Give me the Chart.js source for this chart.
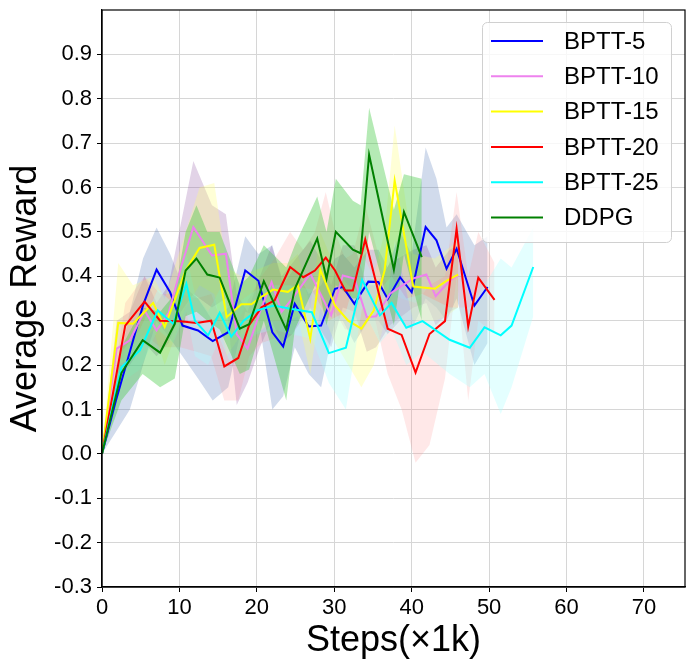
<!DOCTYPE html>
<html>
<head>
<meta charset="utf-8">
<script src="https://cdn.jsdelivr.net/npm/chart.js@4.4.0/dist/chart.umd.min.js"></script>
<style>
  html, body { margin: 0; padding: 0; background: #fff; }
  #wrap { width: 693px; height: 669px; }
</style>
</head>
<body>
<div id="wrap"><canvas id="rewardChart" width="693" height="669"></canvas></div>
<script>
// ticks
var xTicks = [0, 10, 20, 30, 40, 50, 60, 70];
var yTicks = [-0.3, -0.2, -0.1, 0.0, 0.1, 0.2, 0.3, 0.4, 0.5, 0.6, 0.7, 0.8, 0.9];

// BPTT-5
var bptt5X     = [0, 1.8, 3.6, 5.3, 7.05, 8.8, 10.4, 12.4, 14.3, 16.3, 18.5, 20.2, 22.0, 23.4, 24.9, 26.7, 28.3, 30.1, 31.1, 32.6, 34.4, 35.7, 36.9, 38.5, 40.0, 41.8, 43.2, 44.5, 45.8, 48.1, 49.8];
var bptt5Mean  = [0, 0.12, 0.23, 0.335, 0.415, 0.364, 0.289, 0.278, 0.254, 0.274, 0.413, 0.39, 0.274, 0.242, 0.338, 0.287, 0.289, 0.372, 0.376, 0.338, 0.388, 0.387, 0.349, 0.398, 0.364, 0.511, 0.481, 0.417, 0.462, 0.334, 0.376];
var bptt5Upper = [0, 0.17, 0.32, 0.44, 0.51, 0.45, 0.38, 0.35, 0.30, 0.33, 0.49, 0.45, 0.47, 0.38, 0.42, 0.36, 0.38, 0.44, 0.45, 0.42, 0.46, 0.46, 0.42, 0.50, 0.45, 0.69, 0.62, 0.51, 0.54, 0.47, 0.49];
var bptt5Lower = [0, 0.05, 0.10, 0.20, 0.30, 0.26, 0.22, 0.17, 0.12, 0.15, 0.32, 0.31, 0.10, 0.13, 0.24, 0.18, 0.15, 0.30, 0.30, 0.25, 0.30, 0.30, 0.27, 0.30, 0.28, 0.35, 0.33, 0.30, 0.35, 0.20, 0.25];

// BPTT-10
var bptt10X     = [0, 1.9, 3.6, 5.5, 7.05, 8.6, 10.2, 11.8, 14.2, 16.0, 17.4, 18.8, 20.4, 21.9, 23.2, 24.6, 26.9, 28.2, 29.6, 31.1, 32.6, 34.2, 35.4, 37.2, 40.2, 41.9, 43.1, 44.9, 46.0];
var bptt10Mean  = [0, 0.237, 0.256, 0.323, 0.278, 0.317, 0.42, 0.511, 0.447, 0.451, 0.27, 0.237, 0.32, 0.387, 0.32, 0.35, 0.406, 0.361, 0.312, 0.402, 0.395, 0.308, 0.31, 0.361, 0.395, 0.404, 0.355, 0.39, 0.402];
var bptt10Upper = [0, 0.30, 0.32, 0.40, 0.34, 0.38, 0.52, 0.66, 0.56, 0.54, 0.36, 0.32, 0.40, 0.47, 0.40, 0.43, 0.48, 0.44, 0.38, 0.47, 0.47, 0.38, 0.38, 0.43, 0.46, 0.47, 0.42, 0.46, 0.47];
var bptt10Lower = [0, 0.18, 0.20, 0.25, 0.22, 0.25, 0.32, 0.36, 0.33, 0.35, 0.11, 0.16, 0.24, 0.30, 0.25, 0.27, 0.33, 0.28, 0.24, 0.33, 0.32, 0.23, 0.24, 0.29, 0.33, 0.34, 0.29, 0.32, 0.33];

// BPTT-15
var bptt15X     = [0, 2.1, 4.0, 6.6, 8.1, 10.8, 12.6, 14.5, 16.1, 18.0, 19.3, 20.7, 22.1, 24.0, 25.3, 26.9, 28.2, 30.1, 31.8, 33.5, 35.1, 36.5, 37.8, 40.2, 43.0, 44.5, 46.0];
var bptt15Mean  = [0, 0.295, 0.293, 0.34, 0.286, 0.413, 0.464, 0.471, 0.308, 0.337, 0.337, 0.355, 0.37, 0.365, 0.38, 0.259, 0.415, 0.334, 0.30, 0.282, 0.323, 0.413, 0.616, 0.377, 0.372, 0.39, 0.404];
var bptt15Upper = [0, 0.43, 0.38, 0.40, 0.35, 0.50, 0.60, 0.61, 0.42, 0.40, 0.41, 0.42, 0.43, 0.43, 0.45, 0.33, 0.50, 0.42, 0.38, 0.36, 0.40, 0.50, 0.74, 0.45, 0.44, 0.46, 0.48];
var bptt15Lower = [0, 0.20, 0.22, 0.28, 0.20, 0.33, 0.38, 0.36, 0.22, 0.27, 0.27, 0.28, 0.30, 0.30, 0.31, 0.18, 0.33, 0.25, 0.20, 0.15, 0.20, 0.30, 0.48, 0.30, 0.30, 0.31, 0.33];

// BPTT-20
var bptt20X     = [0, 3.0, 5.5, 7.5, 10.1, 12.2, 14.1, 15.8, 17.6, 19.0, 20.6, 22.3, 24.3, 26.0, 27.5, 28.9, 30.1, 31.4, 32.4, 34.0, 36.9, 38.7, 40.5, 42.3, 44.3, 45.8, 47.3, 48.6, 50.7];
var bptt20Mean  = [0, 0.289, 0.343, 0.30, 0.299, 0.295, 0.30, 0.197, 0.216, 0.29, 0.33, 0.346, 0.421, 0.398, 0.413, 0.442, 0.413, 0.368, 0.368, 0.483, 0.282, 0.268, 0.183, 0.27, 0.299, 0.507, 0.287, 0.397, 0.347];
var bptt20Upper = [0, 0.34, 0.40, 0.36, 0.36, 0.35, 0.36, 0.28, 0.30, 0.35, 0.40, 0.44, 0.50, 0.46, 0.50, 0.59, 0.50, 0.44, 0.45, 0.56, 0.37, 0.35, 0.34, 0.38, 0.40, 0.59, 0.40, 0.50, 0.43];
var bptt20Lower = [0, 0.23, 0.27, 0.24, 0.24, 0.23, 0.22, 0.12, 0.12, 0.22, 0.25, 0.26, 0.33, 0.32, 0.33, 0.30, 0.32, 0.28, 0.28, 0.40, 0.18, 0.10, -0.02, 0.02, 0.17, 0.40, 0.12, 0.30, 0.27];

// BPTT-25
var bptt25X     = [0, 2.5, 4.9, 7.2, 9.2, 10.9, 12.0, 13.7, 15.2, 16.7, 18.3, 20.0, 22.2, 24.3, 27.1, 29.3, 31.5, 33.6, 35.9, 37.4, 39.3, 41.4, 44.9, 47.5, 49.4, 51.5, 52.9, 55.7];
var bptt25Mean  = [0, 0.195, 0.233, 0.323, 0.293, 0.383, 0.30, 0.267, 0.318, 0.264, 0.30, 0.323, 0.334, 0.327, 0.319, 0.227, 0.239, 0.392, 0.312, 0.34, 0.284, 0.299, 0.257, 0.239, 0.285, 0.267, 0.289, 0.421];
var bptt25Upper = [0, 0.23, 0.28, 0.37, 0.34, 0.45, 0.36, 0.32, 0.37, 0.32, 0.35, 0.37, 0.38, 0.38, 0.37, 0.30, 0.32, 0.45, 0.37, 0.40, 0.35, 0.36, 0.33, 0.33, 0.38, 0.44, 0.42, 0.51];
var bptt25Lower = [0, 0.16, 0.19, 0.28, 0.25, 0.32, 0.22, 0.20, 0.26, 0.20, 0.25, 0.27, 0.28, 0.27, 0.26, 0.16, 0.10, 0.33, 0.25, 0.28, 0.20, 0.23, 0.18, 0.15, 0.18, 0.09, 0.15, 0.31];

// DDPG
var ddpgX     = [0, 2.5, 5.25, 7.5, 9.4, 10.8, 12.2, 13.6, 15.2, 17.8, 19.0, 20.9, 23.8, 24.9, 27.8, 29.0, 30.2, 32.4, 33.4, 34.5, 37.7, 39.0, 41.3];
var ddpgMean  = [0, 0.182, 0.256, 0.228, 0.293, 0.413, 0.44, 0.404, 0.397, 0.282, 0.292, 0.389, 0.28, 0.372, 0.485, 0.395, 0.5, 0.46, 0.452, 0.674, 0.415, 0.545, 0.443];
var ddpgUpper = [0, 0.24, 0.33, 0.32, 0.36, 0.50, 0.56, 0.50, 0.50, 0.38, 0.40, 0.47, 0.42, 0.47, 0.58, 0.50, 0.62, 0.57, 0.56, 0.78, 0.55, 0.63, 0.62];
var ddpgLower = [0, 0.12, 0.18, 0.15, 0.17, 0.31, 0.32, 0.30, 0.28, 0.18, 0.19, 0.30, 0.12, 0.28, 0.39, 0.29, 0.38, 0.35, 0.35, 0.50, 0.29, 0.45, 0.30];

var series = [
  { label: 'BPTT-5',  color: '#0000ff', band: 'rgba(70,110,180,0.25)',  x: bptt5X,  m: bptt5Mean,  up: bptt5Upper,  lo: bptt5Lower },
  { label: 'BPTT-10', color: '#ee82ee', band: 'rgba(140,80,160,0.25)',  x: bptt10X, m: bptt10Mean, up: bptt10Upper, lo: bptt10Lower },
  { label: 'BPTT-15', color: '#ffff00', band: 'rgba(255,255,120,0.3)',  x: bptt15X, m: bptt15Mean, up: bptt15Upper, lo: bptt15Lower },
  { label: 'BPTT-20', color: '#ff0000', band: 'rgba(255,140,140,0.2)',  x: bptt20X, m: bptt20Mean, up: bptt20Upper, lo: bptt20Lower },
  { label: 'BPTT-25', color: '#00ffff', band: 'rgba(170,255,255,0.32)', x: bptt25X, m: bptt25Mean, up: bptt25Upper, lo: bptt25Lower },
  { label: 'DDPG',    color: '#008000', band: 'rgba(60,200,60,0.38)',   x: ddpgX,   m: ddpgMean,   up: ddpgUpper,   lo: ddpgLower }
];

var FONT = '"Liberation Sans", Arial, sans-serif';

function pts(xs, ys) {
  return xs.map(function (x, i) { return { x: x, y: ys[i] }; });
}

// first dataset is drawn on top, so lines go in reverse (DDPG on top)
var datasets = [];
series.slice().reverse().forEach(function (s) {
  datasets.push({
    label: s.label, data: pts(s.x, s.m), borderColor: s.color, borderWidth: 2,
    pointRadius: 0, fill: false, tension: 0, order: 0
  });
});
series.slice().reverse().forEach(function (s) {
  datasets.push({ label: s.label + ' up', data: pts(s.x, s.up), borderWidth: 0, borderColor: 'rgba(0,0,0,0)', pointRadius: 0, fill: false, order: 1 });
  datasets.push({ label: s.label + ' lo', data: pts(s.x, s.lo), borderWidth: 0, borderColor: 'rgba(0,0,0,0)', pointRadius: 0, fill: '-1', backgroundColor: s.band, order: 1 });
});

var frameAndLegend = {
  id: 'frameAndLegend',
  afterDraw: function (chart) {
    var ctx = chart.ctx, a = chart.chartArea;
    ctx.save();
    ctx.strokeStyle = '#000';
    ctx.lineWidth = 1.2;
    ctx.strokeRect(a.left, a.top, a.right - a.left, a.bottom - a.top);

    // legend box, matplotlib style
    var bx = a.right - 14, by = a.top + 12, bw = 189, bh = 220;
    var x0 = bx - bw;
    ctx.beginPath();
    ctx.roundRect(x0 + 0.5, by + 0.5, bw, bh, 5);
    ctx.fillStyle = 'rgba(255,255,255,0.8)';
    ctx.fill();
    ctx.strokeStyle = '#d0d0d0';
    ctx.lineWidth = 1;
    ctx.stroke();
    ctx.font = '24px ' + FONT;
    ctx.textBaseline = 'middle';
    ctx.fillStyle = '#000';
    series.forEach(function (s, i) {
      var y = by + 19 + i * 35.3;
      ctx.beginPath();
      ctx.moveTo(x0 + 9, y);
      ctx.lineTo(x0 + 61, y);
      ctx.strokeStyle = s.color;
      ctx.lineWidth = 2;
      ctx.stroke();
      ctx.fillText(s.label, x0 + 82, y + 1);
    });
    ctx.restore();
  }
};

var ctxR = document.getElementById('rewardChart').getContext('2d');
var rewardChart = new Chart(ctxR, {
  type: 'line',
  data: { datasets: datasets },
  options: {
    responsive: false,
    animation: false,
    devicePixelRatio: 1,
    layout: { padding: { top: 10, right: 8, left: 0, bottom: 0 } },
    plugins: { legend: { display: false }, tooltip: { enabled: false } },
    scales: {
      x: {
        type: 'linear', min: 0, max: 75.3,
        afterBuildTicks: function (scale) { scale.ticks = xTicks.map(function (v) { return { value: v }; }); },
        afterFit: function (scale) { scale.height = 82; scale.paddingLeft = 0; scale.paddingRight = 0; },
        grid: { color: '#d6d6d6', lineWidth: 1, tickColor: '#000', tickLength: 5 },
        border: { display: true, color: '#000', width: 1.2 },
        ticks: { color: '#000', padding: 3, maxRotation: 0, font: { family: FONT, size: 22 } },
        title: { display: true, text: 'Steps(×1k)', color: '#000', padding: { top: 0, bottom: 6 }, font: { family: FONT, size: 36 } }
      },
      y: {
        type: 'linear', min: -0.3, max: 1.0,
        afterBuildTicks: function (scale) { scale.ticks = yTicks.map(function (v) { return { value: v }; }); },
        afterFit: function (scale) { scale.width = 102; scale.paddingTop = 0; scale.paddingBottom = 0; },
        grid: { color: '#d6d6d6', lineWidth: 1, tickColor: '#000', tickLength: 5 },
        border: { display: true, color: '#000', width: 1.2 },
        ticks: { color: '#000', padding: 5, font: { family: FONT, size: 22 },
          callback: function (v) { return Number(v).toFixed(1); } },
        title: { display: true, text: 'Average Reward', color: '#000', padding: { top: 4, bottom: 0 }, font: { family: FONT, size: 36 } }
      }
    }
  },
  plugins: [frameAndLegend]
});
</script>
</body>
</html>
